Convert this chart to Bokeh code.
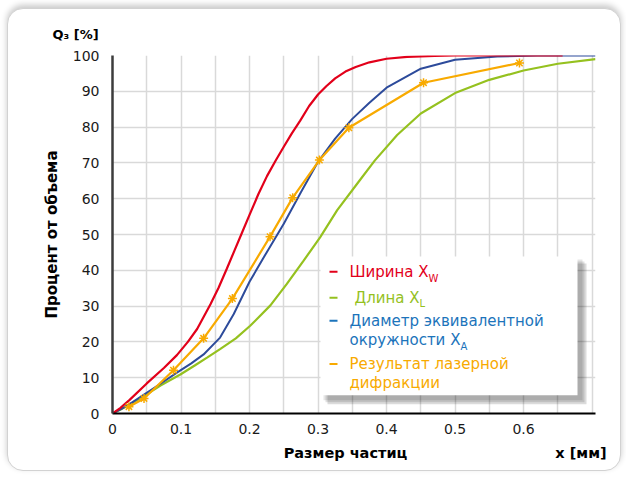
from bokeh.plotting import figure
from bokeh.models import FixedTicker, LinearAxis
from bokeh.core.properties import value
from bokeh.embed import file_html
from bokeh.resources import INLINE

# ---------------- data ----------------
width_x = [0, 0.0117, 0.025, 0.05, 0.075, 0.094, 0.11, 0.1235, 0.143, 0.155, 0.167, 0.178, 0.189,
           0.2, 0.213, 0.2255, 0.238, 0.25, 0.262, 0.274, 0.287, 0.3, 0.312, 0.325, 0.34, 0.355,
           0.375, 0.4, 0.43, 0.47, 0.5, 0.657]
width_y = [0, 1.6, 3.8, 8.4, 12.7, 16.3, 20, 23.6, 30.5, 35.2, 40.5, 45.5, 50.5,
           55.5, 61.3, 66.3, 70.6, 74.5, 78.3, 81.8, 85.9, 89.1, 91.4, 93.6, 95.5, 96.8,
           98.1, 99.1, 99.6, 99.9, 100, 100]

length_x = [0, 0.0125, 0.025, 0.046, 0.07, 0.099, 0.12, 0.138, 0.157, 0.18, 0.201, 0.2305, 0.2545,
            0.279, 0.303, 0.328, 0.3615, 0.383, 0.4155, 0.45, 0.5, 0.55, 0.6, 0.65, 0.705]
length_y = [0, 1.2, 2.5, 4.9, 7.8, 10.9, 13.4, 15.6, 18, 21, 24.5, 30.2, 36.2,
            42.7, 49.2, 56.8, 65.3, 70.7, 77.8, 83.8, 89.5, 93.2, 95.8, 97.7, 99]

area_x = [0, 0.0125, 0.025, 0.046, 0.07, 0.094, 0.115, 0.133, 0.157, 0.177, 0.2, 0.225, 0.25,
          0.275, 0.3, 0.325, 0.35, 0.375, 0.4, 0.45, 0.5, 0.5615, 0.62, 0.705]
area_y = [0, 1.2, 2.6, 5.3, 8.3, 11.4, 14, 16.5, 21.2, 27.8, 36.8, 45, 53,
          61.8, 70.3, 76.8, 82.3, 86.8, 91.0, 96.3, 98.8, 99.7, 100, 100]

laser_x = [0.024, 0.046, 0.089, 0.133, 0.175, 0.230, 0.263, 0.302, 0.345, 0.454, 0.594]
laser_y = [1.9, 4.2, 12.1, 21, 32.1, 49.4, 60.3, 70.8, 79.8, 92.4, 97.9]

x_ticks = [0, 0.1, 0.2, 0.3, 0.4, 0.5, 0.6]
x_tick_labels = ["0", "0.1", "0.2", "0.3", "0.4", "0.5", "0.6"]
x_minor = [0.05, 0.15, 0.25, 0.35, 0.45, 0.55, 0.65, 0.7]
y_ticks = [0, 10, 20, 30, 40, 50, 60, 70, 80, 90, 100]

# ---------------- styles ----------------
RED = "#E2001A"
GREEN = "#95C11F"
BLUE = "#2D4B9B"
BLUE_TXT = "#1C74BB"
ORANGE = "#F8AA00"
FONT = "DejaVu Sans"

# window-pixel helpers for placement (frame: x 112..595, y 412..56)
FX0, FX1, FY0, FY1 = 112.0, 595.0, 412.3, 55.7
XMAX = 0.705
def dx(px):
    return (px - FX0) / (FX1 - FX0) * XMAX
def dy(py):
    return (FY0 - py) / (FY0 - FY1) * 100.0

OX, OY = 8, 9  # canvas offset within window

p = figure(width=614, height=463, x_range=(0, XMAX), y_range=(0, 100),
           output_backend="svg", toolbar_location=None,
           min_border_left=int(FX0 - OX), min_border_right=int(OX + 614 - FX1),
           min_border_top=int(FY1 - OY), min_border_bottom=int(OY + 463 - FY0))
p.margin = (8, 5, 7, 7)
p.styles = {"border": "1px solid #d2d2d2", "border-radius": "16px",
            "box-shadow": "0 -3px 6px rgba(0,0,0,0.22)", "background": "white",
            "overflow": "hidden"}
p.border_fill_color = None
p.background_fill_color = "white"
p.outline_line_color = None

# title used as the y unit caption
p.title.text = "Q₃ [%]"
p.title.align = "left"
p.title.offset = -60
p.title.standoff = 28
p.title.text_font = FONT
p.title.text_font_size = "13px"
p.title.text_font_style = "bold"
p.title.text_color = "black"

# main axes
xax = p.xaxis[0]
yax = p.yaxis[0]
xax.ticker = FixedTicker(ticks=x_ticks, minor_ticks=x_minor)
xax.major_label_overrides = {t: l for t, l in zip(x_ticks, x_tick_labels)}
yax.ticker = FixedTicker(ticks=y_ticks)
for ax in (xax, yax):
    ax.major_tick_line_color = None
    ax.minor_tick_line_color = None
    ax.major_label_text_font = FONT
    ax.major_label_text_font_size = "14px"
    ax.major_label_text_color = "#1a1a1a"
    ax.axis_label_text_font = FONT
    ax.axis_label_text_font_size = "15px"
    ax.axis_label_text_font_style = "bold"
    ax.axis_label_text_color = "black"
xax.axis_line_color = "black"
xax.axis_line_width = 2
yax.axis_line_color = "#3c3c3c"
yax.axis_line_width = 2.5
xax.major_label_standoff = 4
yax.major_label_standoff = 7
yax.axis_label = "Процент от объема"
yax.axis_label_standoff = 9

# second row under the x axis: axis name and unit on one line
cap_pos = [dx(345), dx(580.5)]
cap_txt = ["Размер частиц", "x [мм]"]
cap_ax = LinearAxis(ticker=FixedTicker(ticks=cap_pos, minor_ticks=[]),
                    major_label_overrides={t: l for t, l in zip(cap_pos, cap_txt)},
                    axis_line_color=None, major_tick_line_color=None, minor_tick_line_color=None,
                    major_label_standoff=2, major_label_text_font=FONT,
                    major_label_text_font_size="14.5px", major_label_text_font_style="bold",
                    major_label_text_color="black")
p.add_layout(cap_ax, "below")

p.xgrid.grid_line_color = "#d9d9d9"
p.xgrid.grid_line_width = 1.5
p.xgrid.minor_grid_line_color = "#d9d9d9"
p.xgrid.minor_grid_line_width = 1.5
p.ygrid.grid_line_color = "#d9d9d9"
p.ygrid.grid_line_width = 1.5

# curves
p.line(length_x, length_y, line_color=GREEN, line_width=2.2)
p.line(area_x, area_y, line_color=BLUE, line_width=2)
p.line(width_x, width_y, line_color=RED, line_width=2.2)
p.line(laser_x, laser_y, line_color=ORANGE, line_width=2.2)
p.scatter(laser_x, laser_y, marker="asterisk", size=9, line_color=ORANGE, line_width=1.5)

# legend (manual, for subscripts)
for i, a in enumerate([0.10, 0.12, 0.14]):
    s = 3 + 2 * i
    p.quad(left=dx(320 + s), right=dx(577 + s + 2), top=dy(256 + s), bottom=dy(394 + s + 2),
           fill_color="black", fill_alpha=a, line_color=None)
p.quad(left=dx(320), right=dx(577), top=dy(256), bottom=dy(394),
       fill_color="white", line_color=None)

dash_y = [271, 297, 320, 363]
dash_c = [RED, GREEN, BLUE_TXT, ORANGE]
p.segment(x0=[dx(329)] * 4, x1=[dx(337)] * 4, y0=[dy(v) for v in dash_y],
          y1=[dy(v) for v in dash_y], line_color=dash_c, line_width=2)

leg_x = [349, 354, 349, 349, 349, 349]
leg_y = [271, 297, 320, 339, 363, 382]
leg_t = ["Ширина X", "Длина X", "Диаметр эквивалентной", "окружности X",
         "Результат лазерной", "дифракции"]
leg_c = [RED, GREEN, BLUE_TXT, BLUE_TXT, ORANGE, ORANGE]
p.text(x=[dx(v) for v in leg_x], y=[dy(v) for v in leg_y], text=leg_t, text_color=leg_c,
       text_font=value(FONT), text_font_size="15px", text_baseline="middle", text_align="left")
sub_x = [428, 419, 460]
sub_y = [278, 303, 346]
sub_t = ["W", "L", "A"]
sub_c = [RED, GREEN, BLUE_TXT]
p.text(x=[dx(v) for v in sub_x], y=[dy(v) for v in sub_y], text=sub_t, text_color=sub_c,
       text_font=value(FONT), text_font_size="10px", text_baseline="middle", text_align="left")

open("out.html", "w").write(file_html(p, INLINE))
